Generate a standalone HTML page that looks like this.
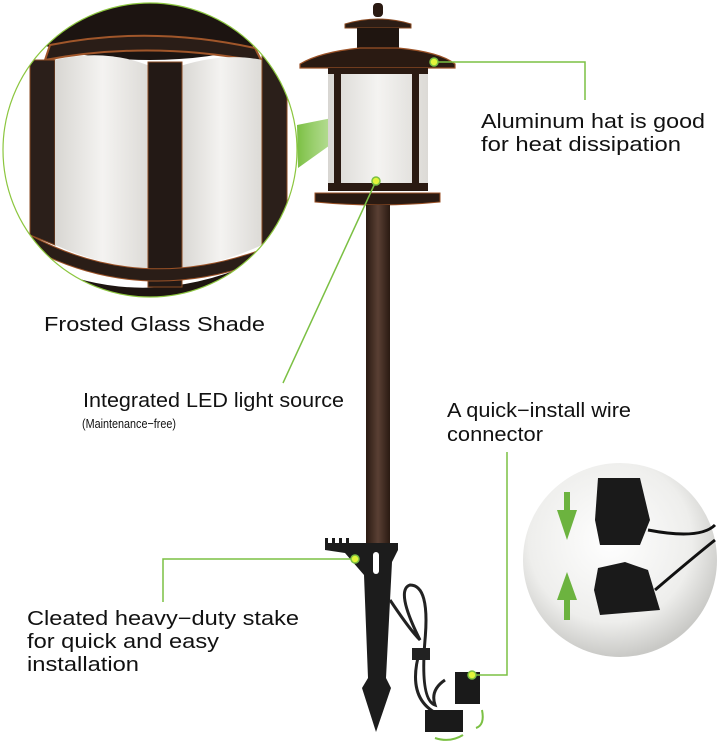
<!DOCTYPE html>
<html><head><meta charset="utf-8"><style>
html,body{margin:0;padding:0;background:#fff;}
svg{display:block}
text{font-family:"Liberation Sans Narrow","Liberation Sans",sans-serif;fill:#111;}
</style></head><body>
<svg width="720" height="745" viewBox="0 0 720 745" xmlns="http://www.w3.org/2000/svg">
<defs>
<linearGradient id="glass" x1="0" x2="1"><stop offset="0" stop-color="#d8d6d2"/><stop offset=".5" stop-color="#f4f3f1"/><stop offset="1" stop-color="#dcdad6"/></linearGradient>
<linearGradient id="pole" x1="0" x2="1"><stop offset="0" stop-color="#2a1a12"/><stop offset=".5" stop-color="#5a4034"/><stop offset="1" stop-color="#2a1a12"/></linearGradient>
<radialGradient id="rc" cx=".45" cy=".4" r=".6"><stop offset="0" stop-color="#ffffff"/><stop offset=".7" stop-color="#eeeeec"/><stop offset="1" stop-color="#c9c9c6"/></radialGradient>
<clipPath id="cc"><circle cx="150" cy="150" r="147"/></clipPath>
<linearGradient id="wedge" x1="0" x2="1"><stop offset="0" stop-color="#7bc043"/><stop offset="1" stop-color="#c8e6a8" stop-opacity=".3"/></linearGradient>
</defs>

<g clip-path="url(#cc)">
<rect x="0" y="0" width="300" height="300" fill="#fff"/>
<ellipse cx="150" cy="10" rx="150" ry="50" fill="#1c1411"/>
<path d="M50 45 Q150 25 255 48 L262 62 Q150 40 45 60 Z" fill="#2a1d17" stroke="#a0562a" stroke-width="2"/>
<path d="M30 260 Q150 320 280 250 L290 300 L20 300 Z" fill="#1e1511"/>
<path d="M30 60 L55 60 L55 245 L30 235 Z" fill="#2b1f1a" stroke="#8a4a22"/>
<path d="M55 60 Q105 48 150 66 L150 270 Q100 265 55 245 Z" fill="url(#glass)"/>
<path d="M180 66 Q225 52 262 60 L262 245 Q225 262 180 270 Z" fill="url(#glass)"/>
<rect x="148" y="62" width="34" height="225" fill="#231915" stroke="#8a4a22"/>
<rect x="262" y="55" width="25" height="190" fill="#2b1f1a" stroke="#8a4a22"/>
<path d="M30 235 Q150 300 285 240 L285 252 Q150 312 30 248 Z" fill="#2a1d17" stroke="#9b5227"/>
</g>
<circle cx="150" cy="150" r="147" fill="none" stroke="#8cc63f" stroke-width="1.2"/>
<polygon points="297,125 382,108 298,168" fill="url(#wedge)"/>

<rect x="373" y="3" width="10" height="14" rx="4" fill="#2a1a12"/>
<path d="M345 24 Q378 14 411 24 L411 28 L345 28 Z" fill="#2c1d15" stroke="#8a4a22"/>
<rect x="357" y="28" width="42" height="22" fill="#1f1510"/>
<path d="M300 64 Q320 52 360 48 L398 48 Q440 52 455 64 L455 68 L300 68 Z" fill="#2a1a12" stroke="#9b5227" stroke-width="1.2"/>
<rect x="328" y="68" width="100" height="122" fill="url(#glass)"/>
<rect x="328" y="68" width="100" height="6" fill="#2a1a12"/>
<rect x="334" y="70" width="7" height="118" fill="#2a1a12"/>
<rect x="412" y="70" width="7" height="118" fill="#2a1a12"/>
<rect x="328" y="183" width="100" height="8" fill="#2a1a12"/>
<path d="M315 193 L440 193 L440 202 Q378 208 315 202 Z" fill="#2a1a12" stroke="#9b5227"/>
<rect x="366" y="205" width="24" height="340" fill="url(#pole)"/>
<path d="M325 543 L398 543 L398 550 L392 562 L386 678 L391 688 L376 732 L362 688 L368 678 L364 575 L345 553 L325 550 Z" fill="#1c1c1c"/>
<rect x="325" y="538" width="3" height="5" fill="#1c1c1c"/><rect x="332" y="538" width="3" height="5" fill="#1c1c1c"/><rect x="339" y="538" width="3" height="5" fill="#1c1c1c"/><rect x="346" y="538" width="3" height="5" fill="#1c1c1c"/>
<rect x="373" y="552" width="6" height="22" rx="3" fill="#fff"/>
<path d="M390 600 Q410 630 420 640 Q395 590 410 585 Q430 585 425 640 Q420 700 435 705 Q430 690 445 680 M420 650 Q405 700 440 715" fill="none" stroke="#222" stroke-width="3"/>
<rect x="412" y="648" width="18" height="12" fill="#222"/>
<rect x="455" y="672" width="25" height="32" fill="#1a1a1a"/>
<rect x="425" y="710" width="38" height="22" fill="#1a1a1a"/>
<path d="M482 710 Q485 725 476 728 M435 738 Q450 743 463 735" fill="none" stroke="#7bc043" stroke-width="2"/>

<circle cx="620" cy="560" r="97" fill="url(#rc)"/>
<path d="M598 478 L640 478 L650 520 L640 545 L600 545 L595 520 Z" fill="#1a1a1a"/>
<path d="M598 568 L625 562 L648 570 L660 610 L600 615 L594 590 Z" fill="#1a1a1a"/>
<path d="M648 530 Q700 540 715 525 M655 590 Q690 560 715 540" fill="none" stroke="#111" stroke-width="3"/>
<rect x="564" y="492" width="6" height="20" fill="#6cb33f"/><polygon points="557,510 577,510 567,540" fill="#6cb33f"/>
<rect x="564" y="598" width="6" height="22" fill="#6cb33f"/><polygon points="557,600 577,600 567,572" fill="#6cb33f"/>

<g stroke="#7bc043" stroke-width="1.5" fill="none">
<polyline points="434,62 585,62 585,100"/>
<line x1="376" y1="181" x2="283" y2="383"/>
<polyline points="355,559 163,559 163,602"/>
<polyline points="507,452 507,675 472,675"/>
</g>
<g fill="#e3f53a" stroke="#7bc043" stroke-width="1.5">
<circle cx="434" cy="62" r="4"/><circle cx="376" cy="181" r="4"/><circle cx="355" cy="559" r="4"/><circle cx="472" cy="675" r="4"/>
</g>

<text x="481" y="128" font-size="20" textLength="224" lengthAdjust="spacingAndGlyphs">Aluminum hat is good</text>
<text x="481" y="151" font-size="20" textLength="200" lengthAdjust="spacingAndGlyphs">for heat dissipation</text>
<text x="44" y="331" font-size="20" textLength="221" lengthAdjust="spacingAndGlyphs">Frosted Glass Shade</text>
<text x="83" y="407" font-size="20" textLength="261" lengthAdjust="spacingAndGlyphs">Integrated LED light source</text>
<text x="82" y="428" font-size="13" textLength="94" lengthAdjust="spacingAndGlyphs">(Maintenance−free)</text>
<text x="447" y="417" font-size="20" textLength="184" lengthAdjust="spacingAndGlyphs">A quick−install wire</text>
<text x="447" y="441" font-size="20" textLength="96" lengthAdjust="spacingAndGlyphs">connector</text>
<text x="27" y="625" font-size="20" textLength="272" lengthAdjust="spacingAndGlyphs">Cleated heavy−duty stake</text>
<text x="27" y="648" font-size="20" textLength="192" lengthAdjust="spacingAndGlyphs">for quick and easy</text>
<text x="27" y="671" font-size="20" textLength="112" lengthAdjust="spacingAndGlyphs">installation</text>
</svg>
</body></html>
